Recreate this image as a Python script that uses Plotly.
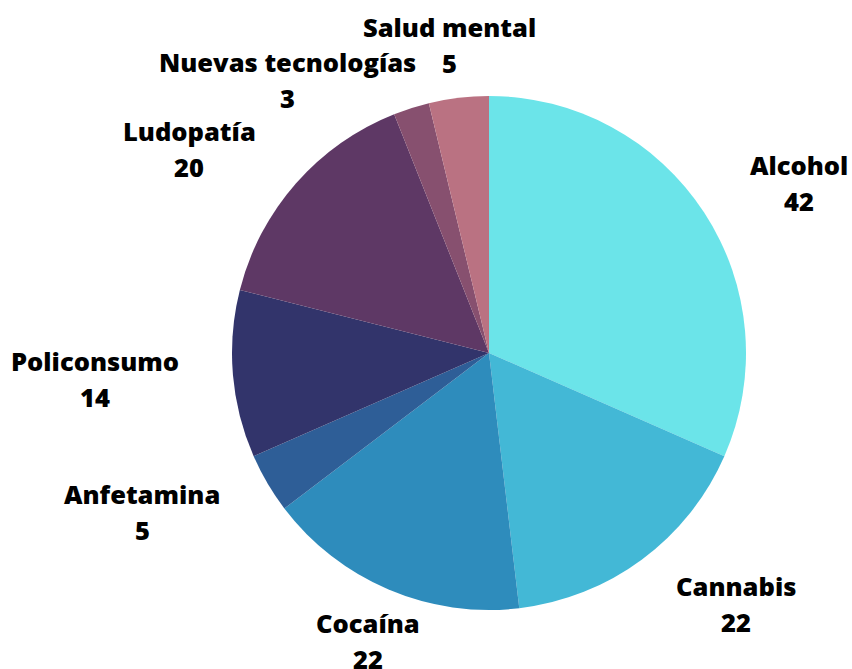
import plotly.graph_objects as go

# ---- data ----
labels = ["Alcohol", "Cannabis", "Cocaína", "Anfetamina", "Policonsumo", "Ludopatía", "Nuevas tecnologías", "Salud mental"]
values = [42, 22, 22, 5, 14, 20, 3, 5]

# ---- style / layout ----
colors = ["#6BE4E9", "#43B8D6", "#2E8CBC", "#2E5E97", "#32346B", "#5E3865", "#87506F", "#BA7282"]
W, H = 852, 669
cx, cy, R = 489, 353, 257           # pie centre and radius in pixels
# label block centres (pixels), one per category
label_xy = [(799, 183), (736, 604), (368, 641), (142, 512), (95, 379), (189, 149), (287, 80), (449, 45)]
half_gap = 18                       # half distance between label line and value line
font = dict(family="Open Sans", size=25.5, color="#000000", weight=800)

fig = go.Figure(go.Pie(
    labels=labels,
    values=values,
    sort=False,
    direction="clockwise",
    rotation=0,
    marker=dict(colors=colors, line=dict(width=0)),
    textinfo="none",
    showlegend=False,
    hoverinfo="label+value",
    domain=dict(x=[(cx - R) / W, (cx + R) / W], y=[1 - (cy + R) / H, 1 - (cy - R) / H]),
))

annotations = []
for lab, val, (px, py) in zip(labels, values, label_xy):
    annotations.append(dict(text=lab, x=px / W, y=1 - (py - half_gap) / H, xref="paper", yref="paper",
                            xanchor="center", yanchor="middle", showarrow=False, font=font))
    annotations.append(dict(text=str(val), x=px / W, y=1 - (py + half_gap) / H, xref="paper", yref="paper",
                            xanchor="center", yanchor="middle", showarrow=False, font=font))

fig.update_layout(
    width=W, height=H,
    margin=dict(l=0, r=0, t=0, b=0),
    paper_bgcolor="white",
    plot_bgcolor="white",
    annotations=annotations,
)

fig.write_html("out.html",
               config={"displayModeBar": False},
               post_script="document.body.style.margin='0';document.body.style.overflow='hidden';")
